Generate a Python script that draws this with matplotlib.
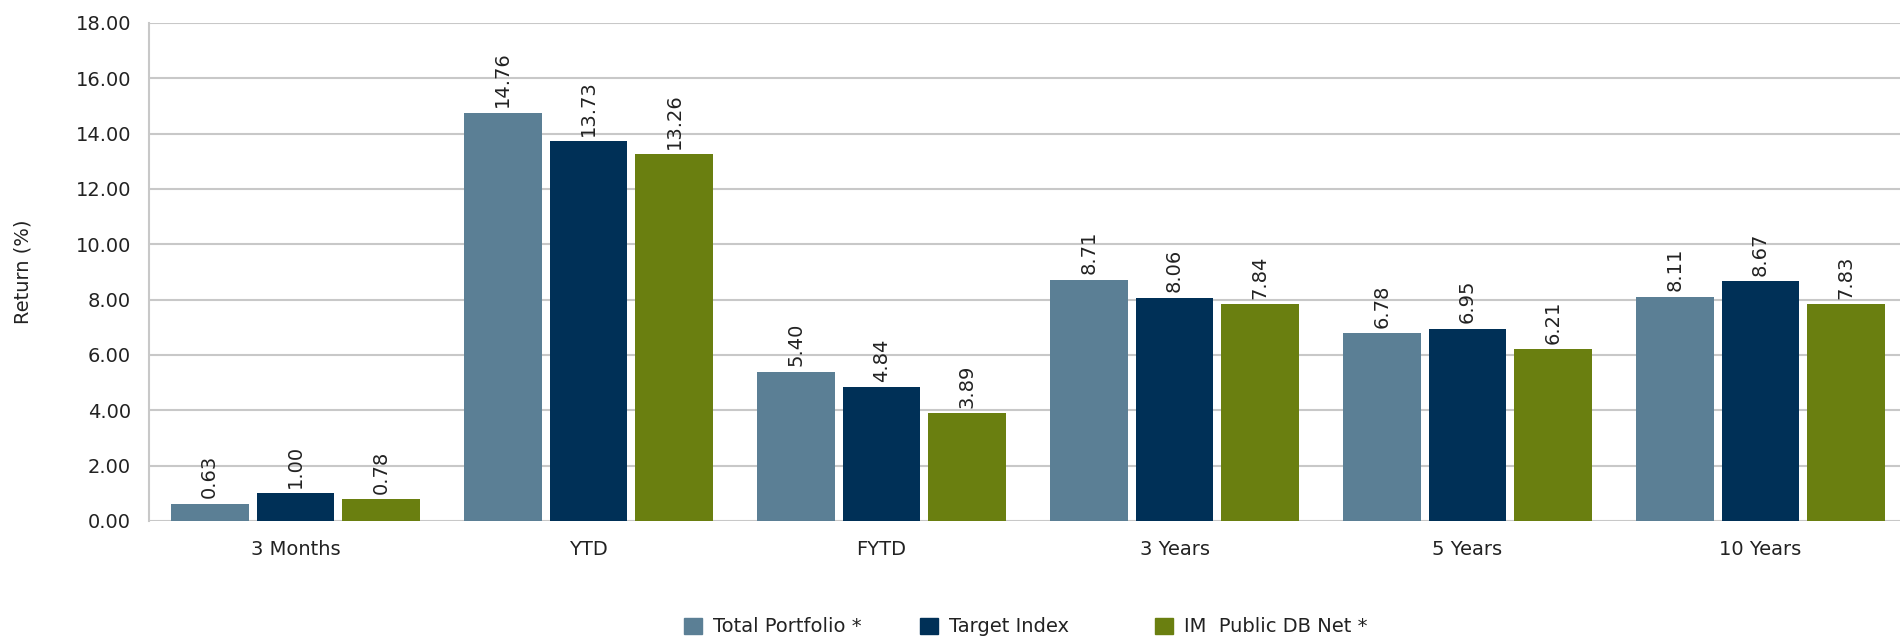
import matplotlib.pyplot as plt
from matplotlib.patches import Patch
import numpy as np

categories = ['3 Months', 'YTD', 'FYTD', '3 Years', '5 Years', '10 Years']
series_names = ['Total Portfolio *', 'Target Index', 'IM  Public DB Net *']
total_portfolio = [0.63, 14.76, 5.40, 8.71, 6.78, 8.11]
target_index = [1.00, 13.73, 4.84, 8.06, 6.95, 8.67]
im_public_db = [0.78, 13.26, 3.89, 7.84, 6.21, 7.83]
colors = ['#5b7f95', '#003057', '#6a7f10']

plt.rcParams['font.family'] = ['DejaVu Sans']
fig = plt.figure(figsize=(19, 6.36), dpi=100)
ax = fig.add_axes([149/1900, 1 - 521/636, 1758/1900, 498/636])

x = np.arange(len(categories))
w = 0.266
step = 0.293
for i, vals in enumerate([total_portfolio, target_index, im_public_db]):
    bars = ax.bar(x + (i - 1) * step, vals, w, color=colors[i], zorder=3)
    for b, v in zip(bars, vals):
        ax.annotate(f'{v:.2f}', (b.get_x() + b.get_width() / 2, v), xytext=(0, 4),
                    textcoords='offset points', rotation=90, ha='center', va='bottom',
                    fontsize=14, color='#222222')

ax.set_xlim(-0.5, len(categories) - 0.5)
ax.set_ylim(0, 18)
yt = np.arange(0, 18.01, 2)
ax.set_yticks(yt)
ax.set_yticklabels([f'{t:.2f}' for t in yt])
ax.set_xticks(x)
ax.set_xticklabels(categories)
ax.tick_params(axis='both', length=0, labelsize=14, colors='#222222')
ax.tick_params(axis='x', pad=14)
ax.tick_params(axis='y', pad=13)
ax.grid(axis='y', color='#c8c8c8', linewidth=1.5, zorder=0)
for s in ['top', 'right', 'bottom']:
    ax.spines[s].set_visible(False)
ax.spines['left'].set_color('#c8c8c8')
ax.spines['left'].set_linewidth(1.5)
ax.set_ylabel('Return (%)', fontsize=14, color='#222222')
ax.yaxis.set_label_coords(-0.066, 0.5)

# legend entries sit at fixed spacing in the reference
for name, c, lx in zip(series_names, colors, [684, 920, 1155]):
    fig.legend(handles=[Patch(color=c, label=name)], loc='center left',
               bbox_to_anchor=(lx / 1900, 1 - 627 / 636), frameon=False,
               borderpad=0, borderaxespad=0, fontsize=14, handlelength=0.93,
               handleheight=0.93, handletextpad=0.57, labelcolor='#222222')

fig.savefig('out.png', dpi=100)
